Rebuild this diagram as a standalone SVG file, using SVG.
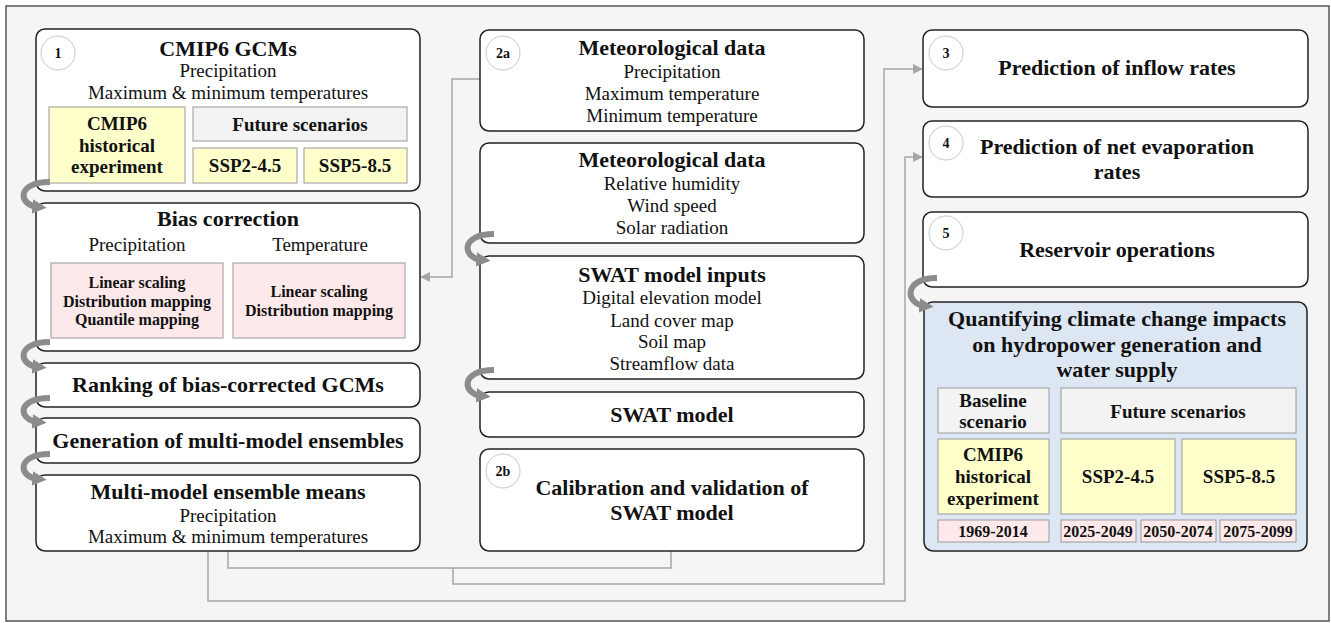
<svg xmlns="http://www.w3.org/2000/svg" width="1331" height="623" viewBox="0 0 1331 623">
  <style>
    text { font-family: "Liberation Serif", "Times New Roman", serif; fill: #111; text-anchor: middle; }
    .t { font-size: 22px; font-weight: bold; }
    .r { font-size: 19px; }
    .b { font-size: 19px; font-weight: bold; }
    .s { font-size: 16px; font-weight: bold; }
    .d { font-size: 16px; font-weight: bold; }
    .n { font-size: 14px; font-weight: bold; }
    .box { fill: #fff; stroke: #222; stroke-width: 1.5; }
    .yel { fill: #ffffcc; stroke: #9a9a9a; stroke-width: 1; }
    .pink { fill: #fde9ea; stroke: #9a9a9a; stroke-width: 1; }
    .grey { fill: #f3f3f3; stroke: #9a9a9a; stroke-width: 1; }
    .num { fill: #fff; stroke: #c8c8c8; stroke-width: 1; }
    .link { fill: none; stroke: #a6a6a6; stroke-width: 1.5; }
    .curl { fill: none; stroke: #8c8c8c; stroke-width: 6; }
  </style>
  <defs>
    <marker id="tip" viewBox="0 0 10 10" refX="9" refY="5" markerWidth="10" markerHeight="10" markerUnits="userSpaceOnUse" orient="auto">
      <path d="M0,0 L10,5 L0,10 z" fill="#a6a6a6"/>
    </marker>
    <marker id="curlhead" viewBox="0 0 10 10" refX="4" refY="5" markerWidth="2.4" markerHeight="2.4" orient="auto">
      <path d="M0,0 L10,5 L0,10 z" fill="#8c8c8c"/>
    </marker>
  </defs>

  <!-- frame -->
  <rect x="6" y="6" width="1323" height="615" fill="#f5f5f5" stroke="#555" stroke-width="1.5"/>

  <!-- connectors -->
  <g id="connectors">
    <polyline class="link" points="480,79 452,79 452,277 421,277" marker-end="url(#tip)"/>
    <polyline class="link" points="208,551 208,601 905,601 905,157 922,157" marker-end="url(#tip)"/>
    <polyline class="link" points="228,551 228,568 671,568 671,551"/>
    <polyline class="link" points="453,568 453,584 884,584 884,69 922,69" marker-end="url(#tip)"/>
  </g>

  <!-- column 1 -->
  <g id="n1">
    <rect class="box" x="36" y="29" width="384" height="162" rx="9"/>
    <circle class="num" cx="58" cy="53" r="17"/>
    <text class="n" x="58" y="58">1</text>
    <text class="t" x="228" y="56">CMIP6 GCMs</text>
    <text class="r" x="228" y="77">Precipitation</text>
    <text class="r" x="228" y="99">Maximum &amp; minimum temperatures</text>
    <rect class="yel" x="49" y="107" width="136" height="76"/>
    <text class="b" x="117" y="130">CMIP6</text>
    <text class="b" x="117" y="152">historical</text>
    <text class="b" x="117" y="173">experiment</text>
    <rect class="grey" x="193" y="107" width="214" height="34"/>
    <text class="b" x="300" y="131">Future scenarios</text>
    <rect class="yel" x="193" y="148" width="104" height="35"/>
    <text class="b" x="245" y="172">SSP2-4.5</text>
    <rect class="yel" x="304" y="148" width="103" height="35"/>
    <text class="b" x="355" y="172">SSP5-8.5</text>
  </g>

  <g id="bias">
    <rect class="box" x="36" y="203" width="384" height="148" rx="9"/>
    <text class="t" x="228" y="226">Bias correction</text>
    <text class="r" x="137" y="251">Precipitation</text>
    <text class="r" x="320" y="251">Temperature</text>
    <rect class="pink" x="51" y="263" width="172" height="75"/>
    <text class="s" x="137" y="288">Linear scaling</text>
    <text class="s" x="137" y="307">Distribution mapping</text>
    <text class="s" x="137" y="325">Quantile mapping</text>
    <rect class="pink" x="233" y="263" width="172" height="75"/>
    <text class="s" x="319" y="297">Linear scaling</text>
    <text class="s" x="319" y="316">Distribution mapping</text>
  </g>

  <g id="ranking">
    <rect class="box" x="36" y="363" width="384" height="44" rx="9"/>
    <text class="t" x="228" y="392">Ranking of bias-corrected GCMs</text>
  </g>

  <g id="generation">
    <rect class="box" x="36" y="418" width="384" height="45" rx="9"/>
    <text class="t" x="228" y="448">Generation of multi-model ensembles</text>
  </g>

  <g id="means">
    <rect class="box" x="36" y="475" width="384" height="76" rx="9"/>
    <text class="t" x="228" y="499">Multi-model ensemble means</text>
    <text class="r" x="228" y="522">Precipitation</text>
    <text class="r" x="228" y="543">Maximum &amp; minimum temperatures</text>
  </g>

  <!-- column 2 -->
  <g id="n2a">
    <rect class="box" x="480" y="30" width="384" height="101" rx="9"/>
    <circle class="num" cx="503" cy="53" r="17"/>
    <text class="n" x="503" y="58">2a</text>
    <text class="t" x="672" y="55">Meteorological data</text>
    <text class="r" x="672" y="78">Precipitation</text>
    <text class="r" x="672" y="100">Maximum temperature</text>
    <text class="r" x="672" y="122">Minimum temperature</text>
  </g>

  <g id="met2">
    <rect class="box" x="480" y="143" width="384" height="100" rx="9"/>
    <text class="t" x="672" y="167">Meteorological data</text>
    <text class="r" x="672" y="190">Relative humidity</text>
    <text class="r" x="672" y="212">Wind speed</text>
    <text class="r" x="672" y="234">Solar radiation</text>
  </g>

  <g id="inputs">
    <rect class="box" x="480" y="256" width="384" height="123" rx="9"/>
    <text class="t" x="672" y="282">SWAT model inputs</text>
    <text class="r" x="672" y="304">Digital elevation model</text>
    <text class="r" x="672" y="327">Land cover map</text>
    <text class="r" x="672" y="348">Soil map</text>
    <text class="r" x="672" y="370">Streamflow data</text>
  </g>

  <g id="swat">
    <rect class="box" x="480" y="392" width="384" height="45" rx="9"/>
    <text class="t" x="672" y="422">SWAT model</text>
  </g>

  <g id="n2b">
    <rect class="box" x="480" y="449" width="384" height="102" rx="9"/>
    <circle class="num" cx="503" cy="471" r="17"/>
    <text class="n" x="503" y="476">2b</text>
    <text class="t" x="672" y="495">Calibration and validation of</text>
    <text class="t" x="672" y="520">SWAT model</text>
  </g>

  <!-- column 3 -->
  <g id="n3">
    <rect class="box" x="923" y="30" width="385" height="77" rx="9"/>
    <circle class="num" cx="946" cy="53" r="17"/>
    <text class="n" x="946" y="58">3</text>
    <text class="t" x="1117" y="75">Prediction of inflow rates</text>
  </g>

  <g id="n4">
    <rect class="box" x="923" y="121" width="385" height="76" rx="9"/>
    <circle class="num" cx="946" cy="143" r="17"/>
    <text class="n" x="946" y="148">4</text>
    <text class="t" x="1117" y="154">Prediction of net evaporation</text>
    <text class="t" x="1117" y="179">rates</text>
  </g>

  <g id="n5">
    <rect class="box" x="923" y="212" width="385" height="75" rx="9"/>
    <circle class="num" cx="946" cy="233" r="17"/>
    <text class="n" x="946" y="238">5</text>
    <text class="t" x="1117" y="257">Reservoir operations</text>
  </g>

  <g id="impacts">
    <rect x="924" y="302" width="383" height="249" rx="9" fill="#dde7f3" stroke="#222" stroke-width="1.5"/>
    <text class="t" x="1117" y="326">Quantifying climate change impacts</text>
    <text class="t" x="1117" y="352">on hydropower generation and</text>
    <text class="t" x="1117" y="377">water supply</text>
    <rect class="grey" x="938" y="388" width="111" height="45"/>
    <text class="b" x="993" y="407">Baseline</text>
    <text class="b" x="993" y="428">scenario</text>
    <rect class="grey" x="1061" y="388" width="235" height="45"/>
    <text class="b" x="1178" y="418">Future scenarios</text>
    <rect class="yel" x="938" y="439" width="111" height="75"/>
    <text class="b" x="993" y="461">CMIP6</text>
    <text class="b" x="993" y="483">historical</text>
    <text class="b" x="993" y="505">experiment</text>
    <rect class="yel" x="1061" y="439" width="114" height="75"/>
    <text class="b" x="1118" y="483">SSP2-4.5</text>
    <rect class="yel" x="1182" y="439" width="114" height="75"/>
    <text class="b" x="1239" y="483">SSP5-8.5</text>
    <rect class="pink" x="938" y="520" width="111" height="22"/>
    <text class="d" x="993" y="537">1969-2014</text>
    <rect class="pink" x="1061" y="520" width="75" height="22"/>
    <text class="d" x="1098" y="537">2025-2049</text>
    <rect class="pink" x="1141" y="520" width="75" height="22"/>
    <text class="d" x="1178" y="537">2050-2074</text>
    <rect class="pink" x="1220" y="520" width="76" height="22"/>
    <text class="d" x="1258" y="537">2075-2099</text>
  </g>

  <!-- curled step arrows -->
  <g id="steps">
    <path class="curl" d="M50,182 C16,182 18,205 38,207" marker-end="url(#curlhead)"/>
    <path class="curl" d="M50,342 C16,342 18,365 38,367" marker-end="url(#curlhead)"/>
    <path class="curl" d="M50,398 C16,398 18,420 38,422" marker-end="url(#curlhead)"/>
    <path class="curl" d="M50,454 C16,454 18,477 38,479" marker-end="url(#curlhead)"/>
    <path class="curl" d="M494,234 C460,234 462,258 482,260" marker-end="url(#curlhead)"/>
    <path class="curl" d="M494,370 C460,370 462,394 482,396" marker-end="url(#curlhead)"/>
    <path class="curl" d="M937,278 C903,278 905,304 925,306" marker-end="url(#curlhead)"/>
  </g>
</svg>
